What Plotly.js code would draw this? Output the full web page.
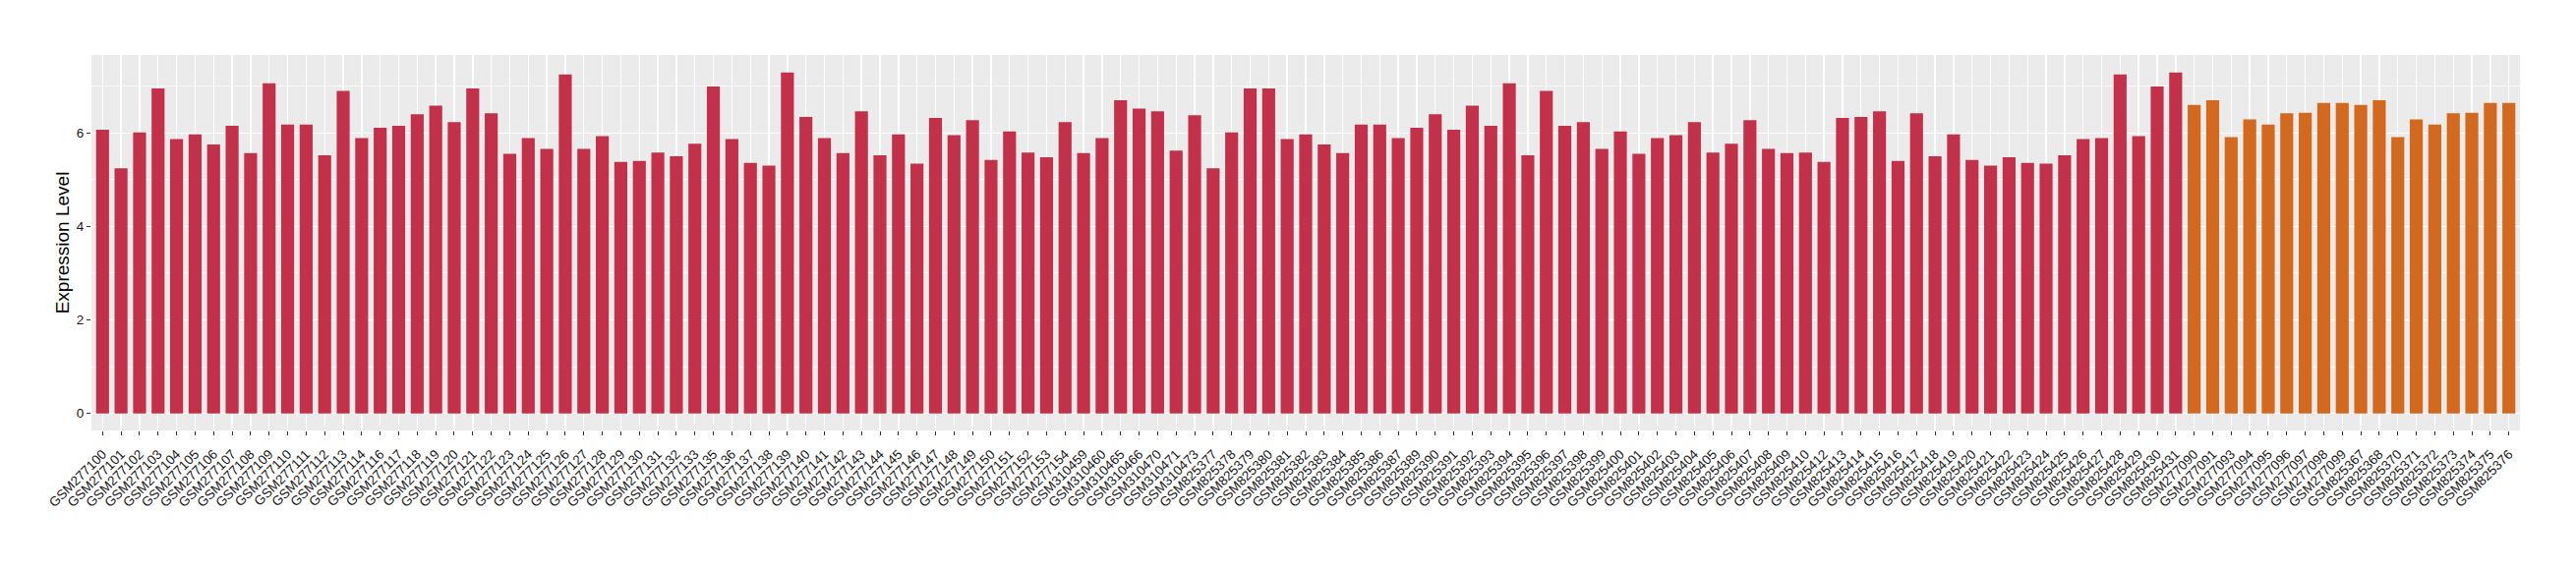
<!DOCTYPE html>
<html>
<head>
<meta charset="utf-8">
<script src="https://cdn.plot.ly/plotly-3.0.1.min.js"></script>
<style>html,body{margin:0;padding:0;background:#fff;}#chart{width:2620px;height:580px;}</style>
</head>
<body>
<div id="chart"></div>
<script>
// Group 1 (red)
const redSamples = [
  "GSM277100","GSM277101","GSM277102","GSM277103","GSM277104","GSM277105","GSM277106","GSM277107","GSM277108","GSM277109",
  "GSM277110","GSM277111","GSM277112","GSM277113","GSM277114","GSM277116","GSM277117","GSM277118","GSM277119","GSM277120",
  "GSM277121","GSM277122","GSM277123","GSM277124","GSM277125","GSM277126","GSM277127","GSM277128","GSM277129","GSM277130",
  "GSM277131","GSM277132","GSM277133","GSM277135","GSM277136","GSM277137","GSM277138","GSM277139","GSM277140","GSM277141",
  "GSM277142","GSM277143","GSM277144","GSM277145","GSM277146","GSM277147","GSM277148","GSM277149","GSM277150","GSM277151",
  "GSM277152","GSM277153","GSM277154","GSM310459","GSM310460","GSM310465","GSM310466","GSM310470","GSM310471","GSM310473",
  "GSM825377","GSM825378","GSM825379","GSM825380","GSM825381","GSM825382","GSM825383","GSM825384","GSM825385","GSM825386",
  "GSM825387","GSM825389","GSM825390","GSM825391","GSM825392","GSM825393","GSM825394","GSM825395","GSM825396","GSM825397",
  "GSM825398","GSM825399","GSM825400","GSM825401","GSM825402","GSM825403","GSM825404","GSM825405","GSM825406","GSM825407",
  "GSM825408","GSM825409","GSM825410","GSM825412","GSM825413","GSM825414","GSM825415","GSM825416","GSM825417","GSM825418",
  "GSM825419","GSM825420","GSM825421","GSM825422","GSM825423","GSM825424","GSM825425","GSM825426","GSM825427","GSM825428",
  "GSM825429","GSM825430","GSM825431"
];
const redValues = [
  6.07,5.24,6.01,6.95,5.87,5.97,5.75,6.15,5.57,7.06,
  6.18,6.18,5.52,6.90,5.89,6.11,6.15,6.40,6.58,6.23,
  6.95,6.42,5.55,5.89,5.66,7.25,5.66,5.93,5.38,5.40,
  5.58,5.50,5.77,6.99,5.87,5.36,5.30,7.29,6.34,5.89,
  5.57,6.46,5.52,5.97,5.34,6.32,5.95,6.27,5.42,6.03,
  5.58,5.48,6.23,5.57,5.89,6.70,6.52,6.46,5.62,6.38,
  5.24,6.01,6.95,6.95,5.87,5.97,5.75,5.57,6.18,6.18,
  5.89,6.11,6.40,6.07,6.58,6.15,7.06,5.52,6.90,6.15,
  6.23,5.66,6.03,5.55,5.89,5.95,6.23,5.58,5.77,6.27,
  5.66,5.57,5.58,5.38,6.32,6.34,6.46,5.40,6.42,5.50,
  5.97,5.42,5.30,5.48,5.36,5.34,5.52,5.87,5.89,7.25,
  5.93,6.99,7.29
];
// Group 2 (orange)
const orangeSamples = [
  "GSM277090","GSM277091","GSM277093","GSM277094","GSM277095","GSM277096","GSM277097","GSM277098","GSM277099",
  "GSM825367","GSM825368","GSM825370","GSM825371","GSM825372","GSM825373","GSM825374","GSM825375","GSM825376"
];
const orangeValues = [
  6.60,6.70,5.91,6.29,6.18,6.42,6.43,6.64,6.64,
  6.60,6.70,5.91,6.29,6.18,6.42,6.43,6.64,6.64
];
const yTicks = [0, 2, 4, 6];

const allSamples = redSamples.concat(orangeSamples);

const traces = [
  {type: 'bar', x: redSamples, y: redValues, width: 0.7,
   marker: {color: '#C3304A', line: {width: 0}}, hoverinfo: 'x+y', showlegend: false},
  {type: 'bar', x: orangeSamples, y: orangeValues, width: 0.7,
   marker: {color: '#D2691E', line: {width: 0}}, hoverinfo: 'x+y', showlegend: false}
];

const font = 'Liberation Sans, Arial, Helvetica, sans-serif';
const layout = {
  width: 2620, height: 580,
  margin: {l: 93, r: 57, t: 56, b: 142, pad: 0},
  paper_bgcolor: '#ffffff',
  plot_bgcolor: '#EBEBEB',
  barmode: 'overlay',
  showlegend: false,
  font: {family: font, color: '#1a1a1a'},
  xaxis: {
    type: 'category',
    categoryorder: 'array',
    categoryarray: allSamples,
    tickmode: 'array',
    tickvals: allSamples,
    ticktext: allSamples,
    range: [-0.6, allSamples.length - 0.4],
    tickangle: -45,
    tickfont: {family: font, size: 13.5, color: '#1a1a1a'},
    ticks: 'outside', ticklen: 4, tickwidth: 1, tickcolor: '#333333',
    ticklabelstandoff: 6,
    showgrid: true, gridcolor: '#ffffff', gridwidth: 1.4,
    zeroline: false, showline: false, automargin: false
  },
  yaxis: {
    range: [-0.365, 7.665],
    tickmode: 'array', tickvals: yTicks, ticktext: yTicks.map(String),
    tickfont: {family: font, size: 13.5, color: '#1a1a1a'},
    ticks: 'outside', ticklen: 4, tickwidth: 1, tickcolor: '#333333',
    showgrid: true, gridcolor: '#ffffff', gridwidth: 1.4,
    minor: {tickmode: 'array', tickvals: [1, 3, 5, 7], showgrid: true, gridcolor: '#ffffff', gridwidth: 0.7, ticks: ''},
    zeroline: false, showline: false, automargin: false,
    title: {text: 'Expression Level', font: {family: font, size: 19, color: '#000000'}, standoff: 2}
  }
};

Plotly.newPlot('chart', traces, layout, {staticPlot: true, displayModeBar: false});
</script>
</body>
</html>
